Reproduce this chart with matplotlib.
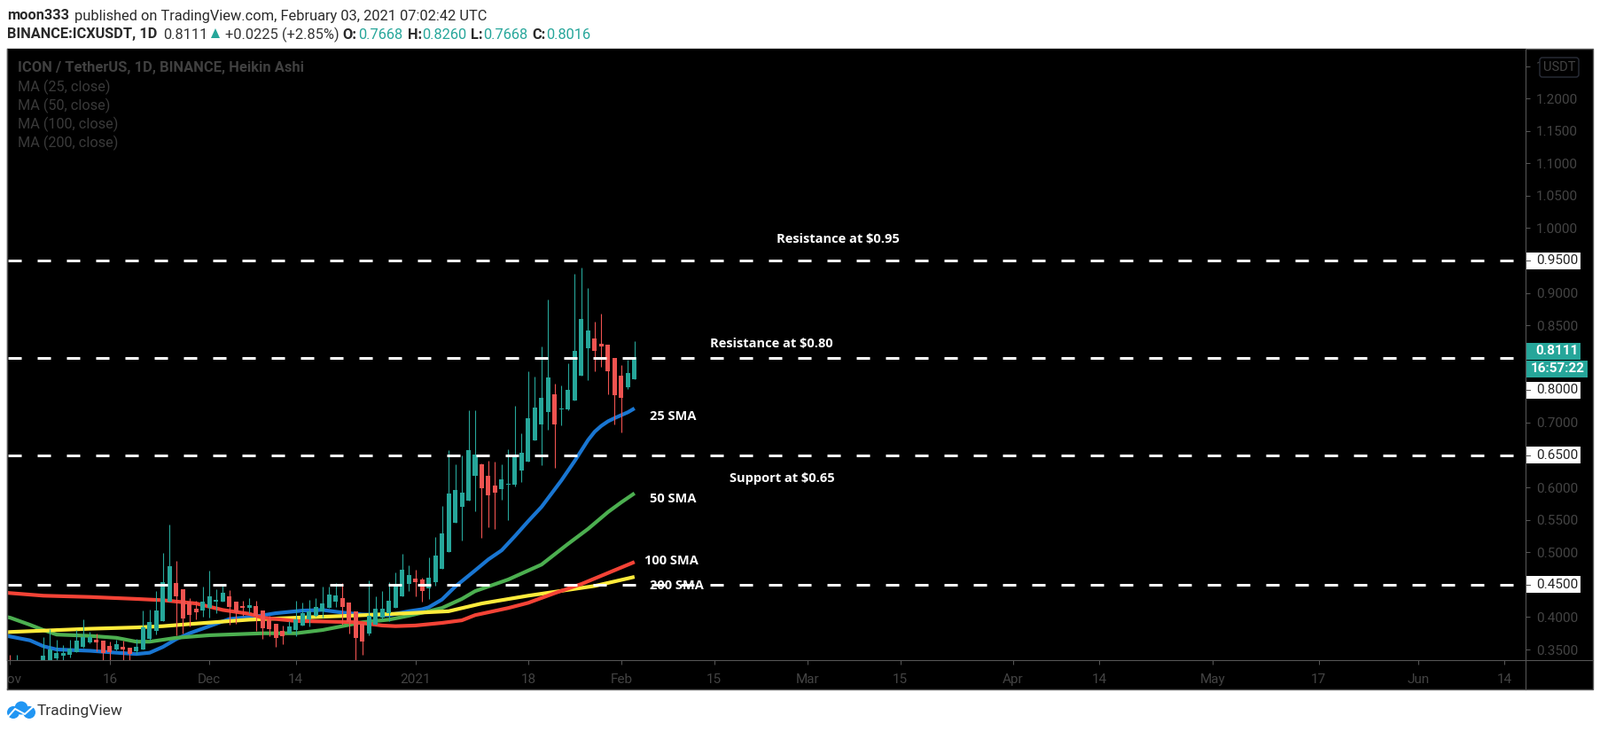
import matplotlib
matplotlib.use("Agg")
import matplotlib.pyplot as plt
from matplotlib.patches import Rectangle, Circle, FancyBboxPatch, Polygon

W, H = 1805, 825

# days counted from 1 Nov 2020
OPEN = [.332, .325, .325, .318, .320, .325, .325, .336, .340, .342,
        .346, .354, .361, .365, .364, .355, .350, .354, .353, .347,
        .350, .366, .379, .394, .424, .452, .443, .424, .413, .410,
        .414, .424, .424, .432, .424, .417, .414, .417, .410, .395,
        .390, .379, .375, .380, .387, .396, .402, .409, .414, .424,
        .429, .422, .409, .390, .375, .388, .399, .406, .414, .432,
        .451, .459, .458, .444, .454, .474, .500, .545, .570, .580,
        .618, .636, .618, .603, .597, .604, .604, .626, .640, .673,
        .697, .716, .744, .720, .720, .734, .772, .815, .830, .822,
        .820, .800, .772, .755, .7668]
HIGH = [.342, .342, .330, .330, .332, .369, .382, .365, .357, .365,
        .380, .396, .378, .375, .364, .362, .365, .363, .353, .366,
        .410, .411, .440, .499, .543, .487, .443, .429, .425, .447,
        .472, .443, .450, .442, .424, .425, .429, .425, .410, .402,
        .390, .387, .394, .425, .422, .427, .429, .447, .447, .453,
        .453, .422, .409, .390, .457, .432, .440, .454, .469, .498,
        .480, .473, .461, .492, .524, .571, .658, .636, .649, .719,
        .719, .637, .641, .640, .636, .659, .726, .684, .779, .771,
        .817, .890, .760, .757, .792, .930, .939, .908, .856, .868,
        .820, .800, .789, .797, .8260]
LOW = [.320, .320, .310, .310, .310, .318, .315, .330, .330, .338,
       .346, .353, .360, .347, .330, .330, .349, .330, .330, .343,
       .350, .363, .373, .394, .424, .372, .375, .386, .396, .401,
       .399, .406, .424, .388, .390, .402, .406, .379, .366, .370,
       .354, .358, .375, .370, .387, .386, .401, .399, .414, .416,
       .388, .375, .330, .342, .372, .388, .396, .394, .414, .432,
       .440, .432, .424, .428, .448, .474, .500, .545, .518, .580,
       .563, .522, .539, .536, .581, .550, .602, .608, .640, .673,
       .634, .689, .630, .696, .719, .734, .772, .766, .779, .786,
       .744, .697, .685, .752, .7668]
CLOSE = [.325, .332, .320, .325, .328, .340, .350, .345, .344, .351,
         .364, .369, .369, .361, .345, .346, .358, .350, .343, .354,
         .384, .392, .410, .454, .479, .432, .398, .403, .407, .424,
         .432, .427, .437, .416, .407, .414, .418, .402, .383, .381,
         .368, .370, .386, .396, .406, .409, .416, .421, .435, .433,
         .416, .392, .368, .362, .402, .413, .413, .425, .448, .473,
         .465, .454, .440, .461, .495, .529, .591, .596, .592, .658,
         .651, .599, .588, .592, .612, .606, .649, .653, .707, .723,
         .738, .770, .697, .722, .751, .811, .860, .842, .811, .817,
         .779, .742, .738, .776, .8016]

MA25_DAYS = [-1, 0, 3, 5, 7, 12, 16, 19, 21, 23, 25, 27, 30, 33, 37, 40, 44, 47, 50, 53,
             57, 60, 62, 63, 65, 67, 70, 72, 74, 76, 78, 80, 83, 85, 87, 88, 89, 90, 91, 93, 94]
MA25 = [.372, .370, .364, .355, .350, .348, .345, .343, .345, .354, .366, .375, .386, .397,
        .401, .406, .410, .411, .407, .404, .403, .409, .412, .415, .427, .447, .472, .489,
        .503, .525, .548, .570, .611, .641, .673, .686, .695, .702, .707, .716, .722]
MA50_DAYS = [-1, 0, 3, 5, 7, 12, 16, 19, 21, 23, 25, 30, 38, 43, 47, 51, 53, 57, 60, 63,
             65, 68, 70, 75, 80, 82, 84, 87, 90, 92, 94]
MA50 = [.401, .399, .388, .380, .373, .371, .368, .362, .362, .365, .368, .372, .375, .375,
        .380, .388, .392, .396, .402, .409, .414, .428, .440, .458, .481, .497, .513, .536,
        .562, .577, .591]
MA100_DAYS = [-1, 0, 5, 12, 19, 23, 28, 32, 36, 38, 43, 48, 52, 56, 58, 61, 65, 68, 70, 75,
              78, 82, 86, 90, 94]
MA100 = [.438, .437, .433, .431, .428, .426, .421, .411, .405, .399, .394, .393, .392, .387,
         .386, .387, .391, .395, .403, .414, .422, .437, .451, .468, .485]
MA200_DAYS = [-1, 0, 12, 19, 23, 28, 36, 43, 51, 60, 66, 71, 78, 84, 88, 94]
MA200 = [.376, .377, .382, .384, .386, .390, .396, .399, .402, .406, .409, .421, .433, .442,
         .448, .462]

LEVELS = [.95, .80, .65, .45]
Y_TICKS = [.35, .40, .45, .50, .55, .60, .65, .70, .80, .85, .90, .95, 1.00, 1.05, 1.10,
           1.15, 1.20, 1.25]
HIDDEN_LABELS = [.45, .65, .80, .95]
TAGS = [("0.9500", .95), ("0.8000", .75), ("0.6500", .65), ("0.4500", .45)]
X_TICKS = [0, 15, 30, 43, 61, 78, 92, 106, 120, 134, 151, 164, 181, 197, 212, 225]
X_LABELS = ["Nov", "16", "Dec", "14", "2021", "18", "Feb", "15", "Mar", "15", "Apr", "14",
            "May", "17", "Jun", "14"]

GREEN = "#26a69a"
RED = "#ef5350"
GREY = "#444444"
LINE = "#555555"
FONT = "Roboto"
LABEL_FONT = "Open Sans"

plt.rcParams["font.family"] = FONT
fig = plt.figure(figsize=(W / 100, H / 100), dpi=100, facecolor="white")

# pixel coordinate layers under and over the chart
back = fig.add_axes([0, 0, 1, 1], zorder=0)
back.set_xlim(0, W)
back.set_ylim(H, 0)
back.axis("off")
back.add_patch(Rectangle((8, 55), 1789, 723, facecolor="black", edgecolor=LINE, lw=1.0))

ax = fig.add_axes([8 / W, 1 - 745 / H, (1721 - 8) / W, (745 - 55) / H], zorder=1)
ax.set_facecolor("black")
ax.set_xlim(-0.467, 228.15)
ax.set_ylim(.3336, 1.2768)
for name in ["top", "left", "right", "bottom"]:
    ax.spines[name].set_visible(False)

days = list(range(len(OPEN)))
colors = [GREEN if c >= o else RED for o, c in zip(OPEN, CLOSE)]

ax.plot(MA25_DAYS, MA25, color="#1976d2", lw=3.0, zorder=2, solid_capstyle="butt")
ax.plot(MA50_DAYS, MA50, color="#4caf50", lw=3.0, zorder=2, solid_capstyle="butt")
ax.plot(MA200_DAYS, MA200, color="#ffeb3b", lw=3.0, zorder=2, solid_capstyle="butt")
ax.plot(MA100_DAYS, MA100, color="#f44336", lw=3.0, zorder=2, solid_capstyle="butt")

ax.vlines(days, LOW, HIGH, colors=colors, lw=0.8, zorder=3)
ax.bar(days, [abs(c - o) for o, c in zip(OPEN, CLOSE)], width=0.67,
       bottom=[min(o, c) for o, c in zip(OPEN, CLOSE)], color=colors, zorder=3)

for level in LEVELS:
    ax.plot([-0.33, 228.15], [level, level], color="white", lw=2.16, dashes=(5, 6),
            dash_capstyle="butt", zorder=4)

ax.set_xticks(X_TICKS)
ax.set_xticklabels(X_LABELS)
ax.set_yticks(Y_TICKS)
ax.set_yticklabels(["" if t in HIDDEN_LABELS else f"{t:.4f}" for t in Y_TICKS])
ax.yaxis.tick_right()
ax.tick_params(axis="x", colors=GREY, length=3.6, width=0.72, pad=7, labelsize=11, color=LINE)
ax.tick_params(axis="y", colors=GREY, length=3.6, width=0.72, pad=5, labelsize=11, color=LINE)

# price tags on the scale
trans = ax.get_yaxis_transform()
px = 1 / 1713
tag_h = 19 / 690 * (1.2768 - .3336)
for text, price in TAGS:
    ax.add_patch(Rectangle((1, price - tag_h / 2), 62 * px, tag_h, facecolor="white",
                           transform=trans, clip_on=False, zorder=5))
    ax.plot([1, 1 + 5 * px], [price, price], color=LINE, lw=0.72, transform=trans,
            clip_on=False, zorder=6)
    ax.text(1 + 12 * px, price, text, color="#222222", fontsize=11, va="center",
            transform=trans, zorder=6)

over = fig.add_axes([0, 0, 1, 1], zorder=2)
over.set_xlim(0, W)
over.set_ylim(H, 0)
over.axis("off")
over.patch.set_alpha(0)

# hides the part of the first date label left of the frame
over.add_patch(Rectangle((0, 746), 7.5, 31, facecolor="white", edgecolor="none"))
over.plot([8, 1797], [745, 745], color=LINE, lw=0.8)
over.plot([1721, 1721], [55, 778], color=LINE, lw=0.8)
over.plot([8, 8], [55, 778], color=LINE, lw=1.0)

over.add_patch(Rectangle((1721, 387), 62, 19, facecolor=GREEN, edgecolor="none"))
over.text(1732, 396.5, "0.8111", color="white", fontsize=11, weight="bold", va="center")
over.add_patch(Rectangle((1722, 407), 69, 19, facecolor=GREEN, edgecolor="none"))
over.text(1727, 416.5, "16:57:22", color="white", fontsize=11, weight="bold", va="center")

over.add_patch(FancyBboxPatch((1740, 68), 38, 16, boxstyle="round,pad=3", facecolor="black",
                              edgecolor="#2a2e39", lw=1.0))
over.text(1759, 76, "USDT", color=GREY, fontsize=10.5, ha="center", va="center")

# watermark
over.text(19.5, 77, "ICON / TetherUS, 1D, BINANCE, Heikin Ashi", color="#404040", fontsize=11.9,
          weight="bold", va="center")
for y, text in zip([98, 119, 140, 161],
                   ["MA (25, close)", "MA (50, close)", "MA (100, close)", "MA (200, close)"]):
    over.text(19.5, y, text, color="#3a3a3a", fontsize=11.7, va="center")

# hand drawn labels
NOTES = [(876, 270, "Resistance at $0.95"), (801, 388, "Resistance at $0.80"),
         (823, 540, "Support at $0.65"), (733, 470.5, "25 SMA"), (733, 563, "50 SMA"),
         (727, 633, "100 SMA"), (733, 661, "200 SMA")]
for x, y, text in NOTES:
    over.text(x, y, text, color="white", fontsize=10.5, weight="bold", family=LABEL_FONT,
              va="center")

# header
DARK = "#2a2a2a"
over.text(8, 18, "moon333", color=DARK, fontsize=11.8, weight="bold", va="center")
over.text(84, 18, "published on TradingView.com, February 03, 2021 07:02:42 UTC", color=DARK,
          fontsize=11.8, va="center")
over.text(8, 39, "BINANCE:ICXUSDT, 1D", color=DARK, fontsize=11.8, weight="bold", va="center")
over.text(184, 39, "0.8111", color="#333333", fontsize=11.8, va="center")
over.add_patch(Polygon([[238, 43], [248, 43], [243, 32]], facecolor=GREEN, edgecolor="none"))
over.text(254.5, 39, "+0.0225 (+2.85%)", color="#333333", fontsize=11.8, va="center")
for x, text in [(386, "O:"), (460, "H:"), (531, "L:"), (600, "C:")]:
    over.text(x, 39, text, color=DARK, fontsize=11.8, weight="bold", va="center")
for x, text in [(404, "0.7668"), (476, "0.8260"), (545.5, "0.7668"), (616, "0.8016")]:
    over.text(x, 39, text, color=GREEN, fontsize=11.8, va="center")

# logo
for cx, cy, r in [(15, 804, 7), (24, 799, 7.5), (33, 804, 7)]:
    over.add_patch(Circle((cx, cy), r, facecolor="#2196f3", edgecolor="none"))
over.add_patch(Rectangle((8, 811), 34, 6, facecolor="white", edgecolor="none"))
over.plot([9, 17, 28, 38], [809, 800, 806, 797], color="white", lw=1.4)
over.text(42, 802, "TradingView", color="#333333", fontsize=12.5, va="center")

fig.savefig("out.png", dpi=100, facecolor="white")
